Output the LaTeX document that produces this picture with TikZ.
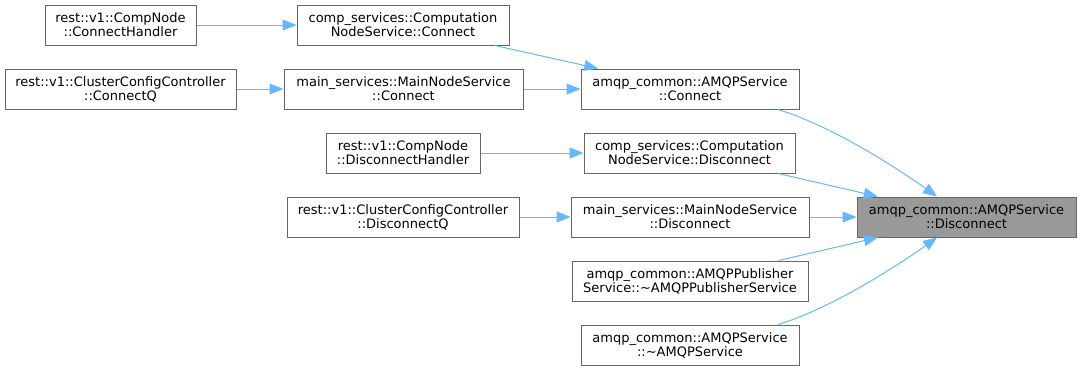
\documentclass[tikz,border=0pt]{standalone}
\usepackage{fontspec}
\setmainfont{DejaVu Sans}
\usetikzlibrary{arrows.meta,calc}
\definecolor{edgeblue}{HTML}{63B8FF}
\definecolor{boxline}{HTML}{666666}
\definecolor{focusfill}{HTML}{999999}
\begin{document}
\begin{tikzpicture}[x=0.75pt,y=-0.75pt,
  fn/.style={draw=boxline, line width=0.75pt, fill=white, rectangle,
    minimum height=30pt, inner sep=0pt, align=center,
    font=\fontsize{9.75pt}{10.5pt}\selectfont},
  focus/.style={fn, fill=focusfill},
  call/.style={draw=edgeblue, line width=0.75pt,
    -{Triangle[length=10.5pt,width=8.25pt,fill=edgeblue]}}]
\useasboundingbox (0,0) rectangle (1081,371);

% callers, leftmost column
\node[fn, minimum width=113.25pt] (ch) at (120.5,25) {rest::v1::CompNode\\::ConnectHandler};
\node[fn, minimum width=173.25pt] (cq) at (120.5,89) {rest::v1::ClusterConfigController\\::ConnectQ};

% second column
\node[fn, minimum width=159pt] (cc) at (403,25) {comp\_services::Computation\\NodeService::Connect};
\node[fn, minimum width=179.25pt] (mc) at (403.5,89) {main\_services::MainNodeService\\::Connect};
\node[fn, minimum width=115.5pt] (dh) at (403,153) {rest::v1::CompNode\\::DisconnectHandler};
\node[fn, minimum width=174pt] (dq) at (403,217) {rest::v1::ClusterConfigController\\::DisconnectQ};

% third column
\node[fn, minimum width=163.5pt] (ac) at (690,89) {amqp\_common::AMQPService\\::Connect};
\node[fn, minimum width=158.25pt] (cd) at (689.5,153) {comp\_services::Computation\\NodeService::Disconnect};
\node[fn, minimum width=178.5pt] (md) at (690,217) {main\_services::MainNodeService\\::Disconnect};
\node[fn, minimum width=177pt] (pub) at (690,281) {amqp\_common::AMQPPublisher\\Service::\textasciitilde AMQPPublisherService};
\node[fn, minimum width=163.5pt] (as) at (690,345) {amqp\_common::AMQPService\\::\textasciitilde AMQPService};

% the function whose callers are shown
\node[focus, minimum width=164.25pt] (ad) at (966.5,217) {amqp\_common::AMQPService\\::Disconnect};

% call edges
\draw[call] (ch) -- (cc);
\draw[call] (cq) -- (mc);
\draw[call] (cc) -- (ac);
\draw[call] (mc) -- (ac);
\draw[call] (dh) -- (cd);
\draw[call] (dq) -- (md);
\draw[call] ($(ac.south)+(88,0)$) .. controls +(50,15) and +(-45,-32) .. ($(ad.north)+(-29.5,0)$);
\draw[call] (cd) -- (ad);
\draw[call] (md) -- (ad);
\draw[call] (pub) -- (ad);
\draw[call] ($(as.north)+(88,0)$) .. controls +(50,-15) and +(-45,32) .. ($(ad.south)+(-29.5,0)$);
\end{tikzpicture}
\end{document}
